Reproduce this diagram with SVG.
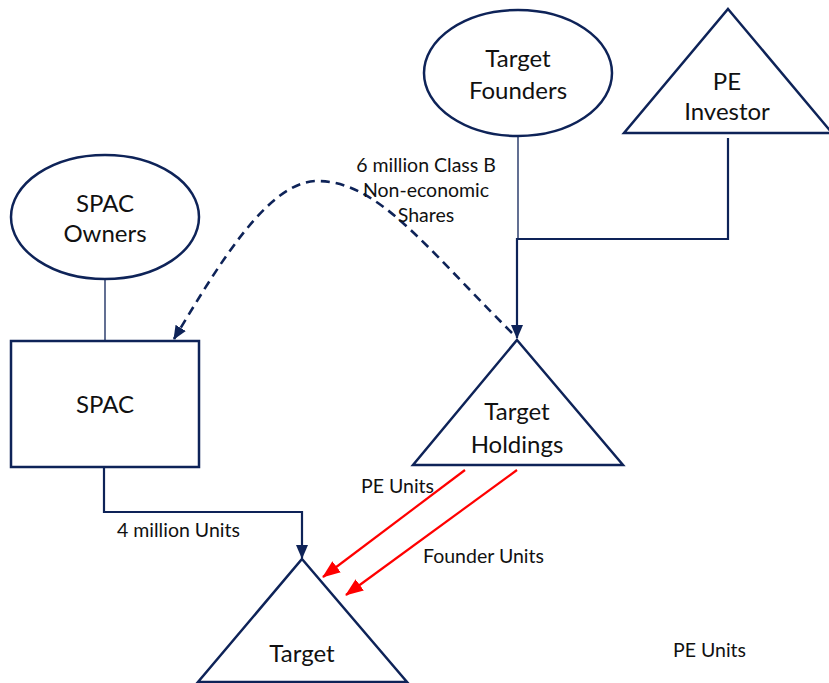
<svg xmlns="http://www.w3.org/2000/svg" width="829" height="683" viewBox="0 0 829 683">
<style>
.shape{fill:#fff;stroke:#0e2358;stroke-width:2.5}
.big{font-family:Lato,"Liberation Sans",sans-serif;font-size:24px;fill:#111;text-anchor:middle}
.small{font-family:Lato,"Liberation Sans",sans-serif;font-size:19.5px;fill:#111}
.thin{fill:none;stroke:#0e2358;stroke-width:1.3}
.conn{fill:none;stroke:#0e2358;stroke-width:2.2}
.dash{fill:none;stroke:#0e2358;stroke-width:2.6;stroke-dasharray:9 6}
.red{fill:none;stroke:#ff0000;stroke-width:2.2}
</style>
<defs>
<marker id="ah" markerUnits="userSpaceOnUse" markerWidth="14" markerHeight="14" viewBox="0 0 14 12" refX="13" refY="6" orient="auto">
<path d="M0,0 L14,6 L0,12 Z" fill="#0e2358"/>
</marker>
<marker id="ar" markerUnits="userSpaceOnUse" markerWidth="18" markerHeight="14" viewBox="0 0 18 14" refX="17" refY="7" orient="auto">
<path d="M0,0 L18,7 L0,14 Z" fill="#ff0000"/>
</marker>
</defs>

<g id="connectors">
<line class="thin" x1="105" y1="279" x2="105" y2="341"/>
<line class="thin" x1="518" y1="136" x2="518" y2="239"/>
<path class="conn" d="M728,138 V239 H517 V338" marker-end="url(#ah)"/>
<path class="conn" d="M104,467 V512 H302 V558" marker-end="url(#ah)"/>
<path class="dash" d="M512,333 C422,243 377,181 317,181 C267,181 215,271 174,339" marker-end="url(#ah)"/>
<line class="red" x1="465" y1="470" x2="323" y2="577" marker-end="url(#ar)"/>
<line class="red" x1="517" y1="470" x2="346" y2="595" marker-end="url(#ar)"/>
</g>

<g id="spac-owners">
<ellipse class="shape" cx="105" cy="217" rx="94" ry="62"/>
<text class="big" x="105" y="212">SPAC</text>
<text class="big" x="105" y="242">Owners</text>
</g>

<g id="spac">
<rect class="shape" x="11" y="341" width="188" height="126"/>
<text class="big" x="105" y="413">SPAC</text>
</g>

<g id="target-founders">
<ellipse class="shape" cx="518" cy="73" rx="94" ry="63"/>
<text class="big" x="518" y="67">Target</text>
<text class="big" x="518" y="99">Founders</text>
</g>

<g id="pe-investor">
<polygon class="shape" points="728,9 832,133 624,133"/>
<text class="big" x="727" y="90">PE</text>
<text class="big" x="727" y="120">Investor</text>
</g>

<g id="target-holdings">
<polygon class="shape" points="517,340 623,465 413,465"/>
<text class="big" x="517" y="420">Target</text>
<text class="big" x="517" y="453">Holdings</text>
</g>

<g id="target">
<polygon class="shape" points="302,559 407,682 198,682"/>
<text class="big" x="302" y="662">Target</text>
</g>

<g id="labels">
<text class="small" x="426" y="172" text-anchor="middle">6 million Class B</text>
<text class="small" x="426" y="197" text-anchor="middle">Non-economic</text>
<text class="small" x="426" y="222" text-anchor="middle">Shares</text>
<text class="small" x="117" y="537">4 million Units</text>
<text class="small" x="361" y="493">PE Units</text>
<text class="small" x="423" y="563">Founder Units</text>
<text class="small" x="673" y="657">PE Units</text>
</g>
</svg>
